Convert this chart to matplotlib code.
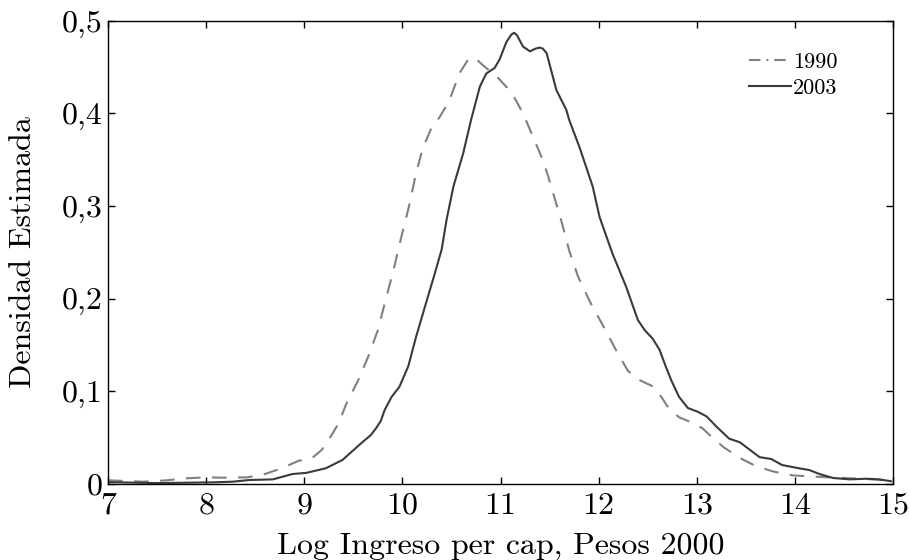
import matplotlib
matplotlib.use("Agg")
import matplotlib.pyplot as plt
from matplotlib.lines import Line2D
from matplotlib.ticker import FuncFormatter

plt.rcParams["font.family"] = ["cmr10", "DejaVu Serif"]
plt.rcParams["mathtext.fontset"] = "cm"
plt.rcParams["axes.unicode_minus"] = False

# estimated kernel densities
x_1990 = [7.0, 7.36, 7.6, 7.77, 8.0, 8.18, 8.42, 8.6, 8.77, 8.94, 9.08, 9.18, 9.28,
          9.35, 9.43, 9.55, 9.65, 9.75, 9.83, 9.91, 9.99, 10.075, 10.14, 10.21,
          10.295, 10.38, 10.48, 10.58, 10.67, 10.74, 10.82, 10.96, 11.11, 11.23,
          11.33, 11.43, 11.48, 11.62, 11.7, 11.79, 11.91, 12.06, 12.2, 12.3, 12.42,
          12.54, 12.62, 12.72, 12.82, 12.98, 13.06, 13.13, 13.27, 13.44, 13.61,
          13.78, 13.98, 14.19, 14.39, 14.66, 14.97]
d_1990 = [0.004, 0.0025, 0.004, 0.006, 0.0072, 0.0068, 0.0072, 0.0108, 0.017, 0.025,
          0.028, 0.037, 0.053, 0.0655, 0.087, 0.112, 0.137, 0.166, 0.199, 0.231,
          0.267, 0.303, 0.336, 0.363, 0.384, 0.396, 0.414, 0.443, 0.458, 0.460,
          0.452, 0.440, 0.423, 0.400, 0.375, 0.350, 0.334, 0.284, 0.252, 0.224,
          0.197, 0.168, 0.140, 0.122, 0.112, 0.106, 0.097, 0.081, 0.072, 0.065,
          0.060, 0.053, 0.040, 0.028, 0.019, 0.0135, 0.0093, 0.008, 0.007, 0.0057,
          0.004]

x_2003 = [7.0, 7.5, 8.07, 8.27, 8.44, 8.68, 8.88, 9.02, 9.22, 9.39, 9.58, 9.68, 9.73,
          9.78, 9.82, 9.89, 9.97, 10.06, 10.14, 10.24, 10.33, 10.4, 10.45, 10.52,
          10.57, 10.62, 10.7, 10.79, 10.855, 10.94, 10.99, 11.06, 11.11, 11.14,
          11.17, 11.23, 11.3, 11.36, 11.4, 11.43, 11.47, 11.57, 11.67, 11.7, 11.81,
          11.94, 12.01, 12.14, 12.28, 12.4, 12.47, 12.55, 12.62, 12.68, 12.74, 12.82,
          12.91, 13.01, 13.1, 13.2, 13.33, 13.44, 13.54, 13.64, 13.76, 13.87, 14.01,
          14.15, 14.25, 14.39, 14.56, 14.73, 14.86, 14.98]
d_2003 = [0.002, 0.001, 0.0018, 0.0025, 0.0043, 0.005, 0.0108, 0.012, 0.017, 0.026,
          0.044, 0.053, 0.060, 0.068, 0.080, 0.094, 0.105, 0.127, 0.159, 0.195,
          0.227, 0.253, 0.285, 0.321, 0.339, 0.357, 0.393, 0.429, 0.443, 0.449,
          0.458, 0.477, 0.485, 0.487, 0.484, 0.472, 0.467, 0.470, 0.471, 0.470,
          0.465, 0.425, 0.404, 0.393, 0.362, 0.321, 0.288, 0.249, 0.213, 0.177,
          0.166, 0.157, 0.145, 0.128, 0.112, 0.094, 0.082, 0.078, 0.073, 0.062,
          0.049, 0.045, 0.037, 0.029, 0.027, 0.0205, 0.0176, 0.015, 0.0108, 0.0065,
          0.005, 0.0057, 0.005, 0.003]

GREY, DARK = "#808080", "#3a3a3a"

fig = plt.figure(figsize=(9.1, 5.6), dpi=100)
ax = fig.add_axes([0.1187, 0.1357, 0.8626, 0.8273])

l90, = ax.plot(x_1990, d_1990, color=GREY, lw=1.5)
l90.set_dashes((7, 5.5))
ax.plot(x_2003, d_2003, color=DARK, lw=1.5)

ax.set_xlim(7, 15)
ax.set_ylim(0, 0.5)
ax.set_xticks(range(7, 16))
ax.set_yticks([0, 0.1, 0.2, 0.3, 0.4, 0.5])
ax.yaxis.set_major_formatter(FuncFormatter(lambda v, p: "0" if v == 0 else f"{v:.1f}".replace(".", ",")))
ax.tick_params(direction="in", length=5, width=1, labelsize=23, top=True, right=True)
ax.tick_params(axis="x", pad=6)
ax.tick_params(axis="y", pad=4)
for s in ax.spines.values():
    s.set_linewidth(1.0)

ax.set_xlabel("Log Ingreso per cap, Pesos 2000", fontsize=23, labelpad=9)
ax.set_ylabel("Densidad Estimada", fontsize=23, labelpad=18)

handles = [Line2D([], [], color=GREY, lw=1.5, linestyle=(0, (5.5, 2.8, 1, 2.8))),
           Line2D([], [], color=DARK, lw=1.5)]
ax.legend(handles, ["1990", "2003"], loc="upper right", frameon=False, fontsize=16,
          handlelength=1.9, handletextpad=0.1, labelspacing=0.3,
          bbox_to_anchor=(0.955, 0.975))

fig.savefig("out.png", dpi=100)
